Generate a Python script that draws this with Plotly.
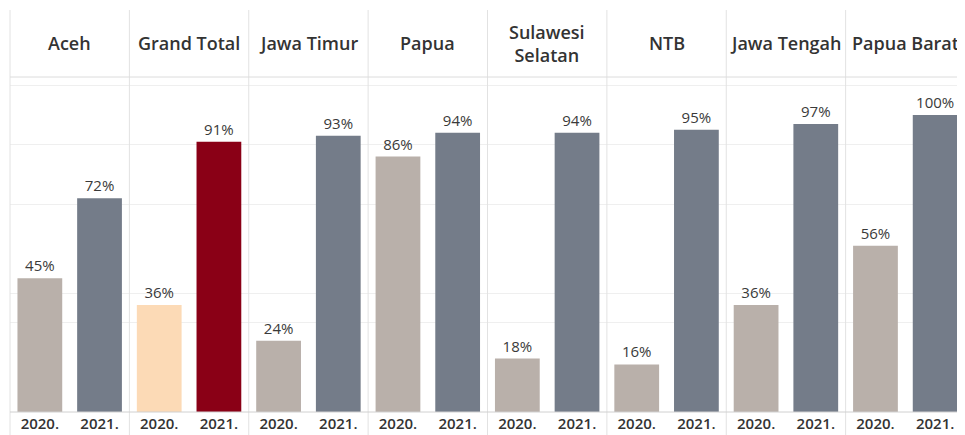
import plotly.graph_objects as go
from plotly.subplots import make_subplots

regions = ["Aceh", "Grand Total", "Jawa Timur", "Papua", "Sulawesi<br>Selatan",
           "NTB", "Jawa Tengah", "Papua Barat"]
years = ["2020.", "2021."]
v2020 = [45, 36, 24, 86, 18, 16, 36, 56]
v2021 = [72, 91, 93, 94, 94, 95, 97, 100]

c2020 = "#b9b0aa"
c2021 = "#747c89"
c2020_total = "#fcdab6"
c2021_total = "#8a0016"

n = len(regions)
fig = make_subplots(rows=1, cols=n, shared_yaxes=True, horizontal_spacing=0)

for i, reg in enumerate(regions):
    is_total = reg == "Grand Total"
    cols = [c2020_total, c2021_total] if is_total else [c2020, c2021]
    vals = [v2020[i], v2021[i]]
    fig.add_trace(go.Bar(
        x=years, y=vals,
        marker=dict(color=cols, line=dict(width=0)),
        width=0.75,
        text=[f"{v}%" for v in vals],
        textposition="outside",
        textfont=dict(size=15, color="#3a3a3a", family="Open Sans", weight=500),
        cliponaxis=False,
        showlegend=False,
        hoverinfo="skip",
    ), row=1, col=i + 1)

for i in range(n):
    fig.update_xaxes(
        row=1, col=i + 1,
        showgrid=False, zeroline=False, showline=False,
        ticks="", tickfont=dict(size=15, color="#333333", family="Open Sans", weight=600),
        ticklen=0, ticklabelstandoff=1,
    )
    fig.update_yaxes(
        row=1, col=i + 1,
        range=[0, 112.8],
        tickvals=[30, 40, 70, 90, 110],
        showticklabels=False,
        showgrid=True, gridcolor="#efefef", gridwidth=1,
        zeroline=False, showline=False, ticks="",
    )

shapes = []
for k in range(n + 1):
    shapes.append(dict(type="line", xref="paper", yref="paper",
                       x0=k / n, x1=k / n, y0=-0.07, y1=1.2,
                       line=dict(color="#e2e2e2", width=1)))
shapes.append(dict(type="line", xref="paper", yref="paper",
                   x0=0, x1=1, y0=1, y1=1, line=dict(color="#dcdcdc", width=1)))
shapes.append(dict(type="line", xref="paper", yref="paper",
                   x0=0, x1=1, y0=0, y1=0, line=dict(color="#d0d0d0", width=1)))

annotations = []
for i, reg in enumerate(regions):
    annotations.append(dict(
        text=reg, xref="paper", yref="paper",
        x=(i + 0.5) / n, y=1.1, xanchor="center", yanchor="middle",
        showarrow=False, align="center",
        font=dict(size=18, color="#333333", family="Open Sans", weight=600),
    ))

fig.update_layout(
    width=957, height=427,
    margin=dict(l=2, r=0, t=69, b=23),
    paper_bgcolor="white", plot_bgcolor="white",
    bargap=0.25,
    shapes=shapes,
    annotations=annotations,
    font=dict(family="Open Sans"),
)

fig.write_html("out.html")
